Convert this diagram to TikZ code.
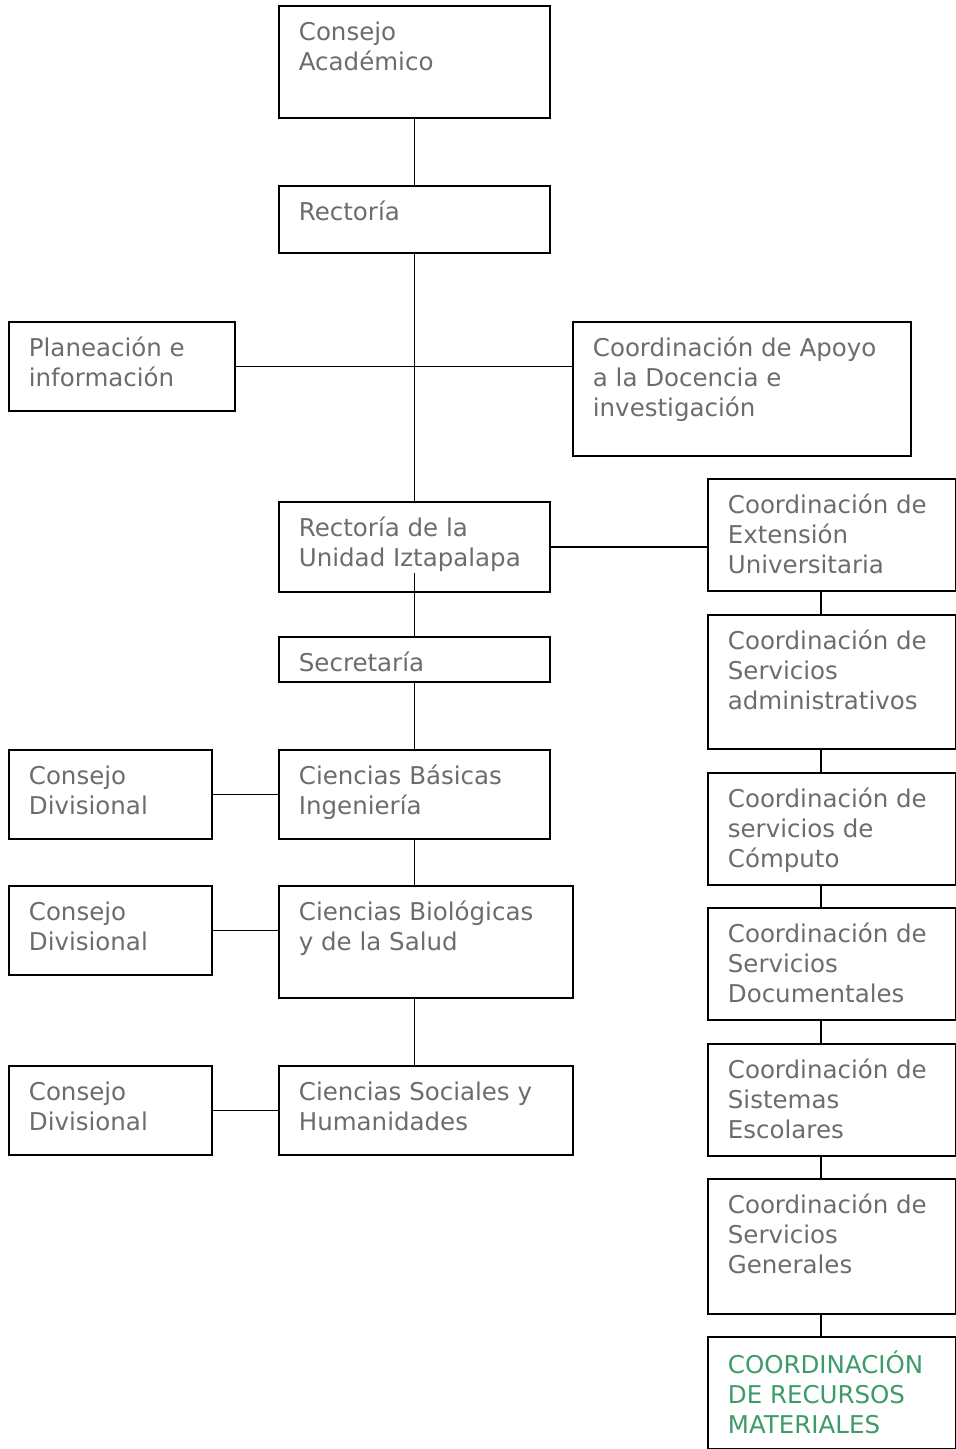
\documentclass[tikz,border=0pt]{standalone}
\usepackage{fontspec}
\setmainfont{DejaVu Sans}
\definecolor{txtgray}{RGB}{108,108,108}
\definecolor{rmgreen}{RGB}{60,155,105}
\newcommand{\boxtext}[3]{\parbox[t][#2pt][t]{#1pt}{\raggedright\leftskip=20pt\vspace*{14pt}\strut#3}}
\begin{document}
\begin{tikzpicture}[x=1pt,y=-1pt,line width=1.8pt,
  org/.style={draw, anchor=north west, inner sep=0pt, text=txtgray, font=\fontsize{24.5}{30}\selectfont}]
\useasboundingbox (0,0) rectangle (956,1449);
\node[org] (ca) at (278,5){\boxtext{271}{112}{Consejo\\Académico}};
\node[org] (rec) at (278,185){\boxtext{271}{67}{Rectoría}};
\node[org] (plan) at (8,321){\boxtext{226}{89}{Planeación e\\información}};
\node[org] (apoyo) at (572,321){\boxtext{338}{134}{Coordinación de Apoyo\\a la Docencia e\\investigación}};
\node[org] (rui) at (278,501){\boxtext{271}{90}{Rectoría de la\\Unidad Iztapalapa}};
\node[org] (sec) at (278,636){\boxtext{271}{45}{Secretaría}};
\node[org] (cbi) at (278,749){\boxtext{271}{89}{Ciencias Básicas\\Ingeniería}};
\node[org] (cbs) at (278,885){\boxtext{294}{112}{Ciencias Biológicas\\y de la Salud}};
\node[org] (csh) at (278,1065){\boxtext{294}{89}{Ciencias Sociales y\\Humanidades}};
\node[org] (cd1) at (8,749){\boxtext{203}{89}{Consejo\\Divisional}};
\node[org] (cd2) at (8,885){\boxtext{203}{89}{Consejo\\Divisional}};
\node[org] (cd3) at (8,1065){\boxtext{203}{89}{Consejo\\Divisional}};
\draw[](ca) -- (rec);
\draw[](rec) -- (rui);
\draw[](plan) -- (apoyo.west |- plan.east);
\draw[]([yshift=20pt]rui.south) -- (sec);
\draw[](sec) -- (cbi);
\draw[](cbi) -- (cbi.south |- cbs.north);
\draw[](cbs.south -| cbi.south) -- (cbi.south |- csh.north);
\draw[](cd1) -- (cbi);
\draw[](cd2) -- (cd2.east -| cbs.west);
\draw[](cd3) -- (csh);
% coordinaciones
\node[org] (ext) at (707,478){\boxtext{248}{112}{Coordinación de\\Extensión\\Universitaria}};
\node[org] (adm) at (707,614){\boxtext{248}{134}{Coordinación de\\Servicios\\administrativos}};
\node[org] (comp) at (707,772){\boxtext{248}{112}{Coordinación de\\servicios de\\Cómputo}};
\node[org] (doc) at (707,907){\boxtext{248}{112}{Coordinación de\\Servicios\\Documentales}};
\node[org] (esc) at (707,1043){\boxtext{248}{112}{Coordinación de\\Sistemas\\Escolares}};
\node[org] (gen) at (707,1178){\boxtext{248}{135}{Coordinación de\\Servicios\\Generales}};
\node[org, text=rmgreen] (rm) at (707,1336){\boxtext{248}{112}{COORDINACIÓN\\DE RECURSOS\\MATERIALES}};
\draw[](rui) -- (ext.west |- rui.east);
\draw[]([xshift=-11pt]ext.south) -- ([xshift=-11pt]adm.north);
\draw[]([xshift=-11pt]adm.south) -- ([xshift=-11pt]comp.north);
\draw[]([xshift=-11pt]comp.south) -- ([xshift=-11pt]doc.north);
\draw[]([xshift=-11pt]doc.south) -- ([xshift=-11pt]esc.north);
\draw[]([xshift=-11pt]esc.south) -- ([xshift=-11pt]gen.north);
\draw[]([xshift=-11pt]gen.south) -- ([xshift=-11pt]rm.north);
\end{tikzpicture}
\end{document}
